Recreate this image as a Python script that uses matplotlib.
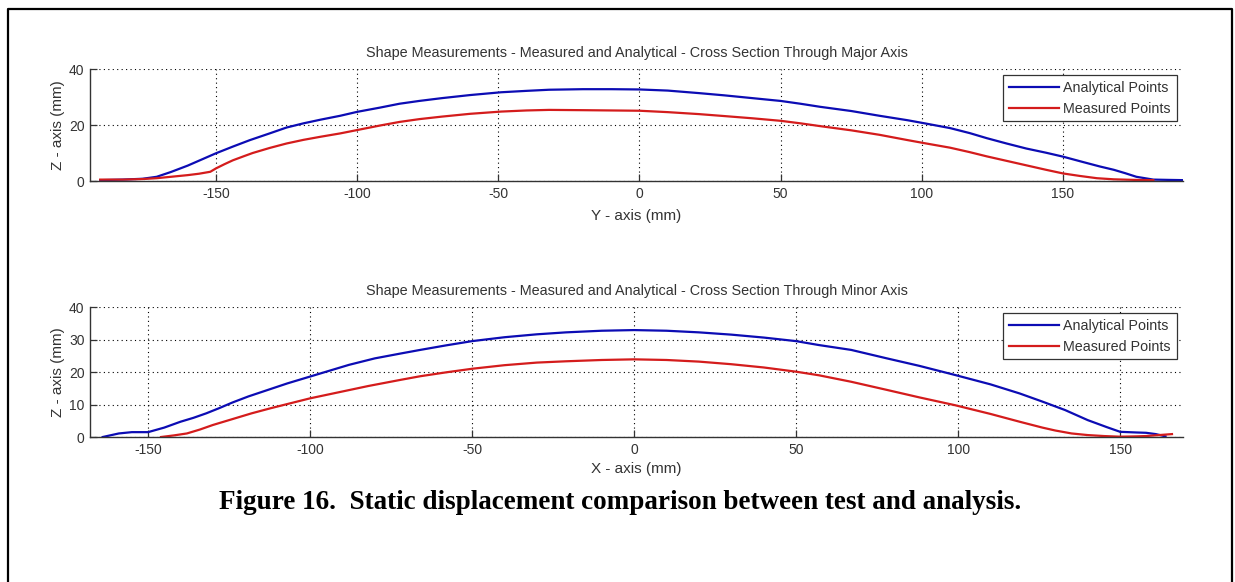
"""Static displacement comparison, major and minor axis cross sections"""
import matplotlib
matplotlib.use("Agg")
import matplotlib.pyplot as plt
from matplotlib.lines import Line2D

# major axis cross section (Y - axis)
MAJOR_Y_ANALYTICAL = [-191, -183, -176, -171, -166, -160, -155, -150, -144, -138,
                      -131, -125, -119, -113, -106, -100, -92, -85, -78, -70,
                      -60, -49, -40, -32, -20, -10, 0, 10, 21, 30,
                      40, 50, 57, 64, 75, 85, 95, 101, 110, 117, 123,
                      130, 137, 144, 150, 157, 163, 168, 172, 176, 182, 187, 193]
MAJOR_Z_ANALYTICAL = [0.3, 0.5, 0.8, 1.5, 3.2, 5.5, 7.7, 9.9, 12.3, 14.6,
                      17.0, 19.1, 20.6, 21.9, 23.3, 24.7, 26.2, 27.6, 28.6, 29.6,
                      30.7, 31.7, 32.2, 32.6, 32.8, 32.8, 32.7, 32.3, 31.4, 30.6,
                      29.6, 28.6, 27.6, 26.5, 25.0, 23.3, 21.7, 20.6, 18.9, 17.1, 15.3,
                      13.4, 11.6, 10.1, 8.7, 6.8, 5.2, 4.0, 2.8, 1.5, 0.5, 0.4, 0.3]
MAJOR_Y_MEASURED = [-191, -183, -176, -171, -165, -160, -156, -152, -150, -147,
                    -144, -140, -137, -131, -125, -119, -113, -106, -100, -92,
                    -85, -78, -70, -60, -49, -40, -32, -20, -10, 0, 10, 21,
                    30, 40, 50, 57, 64, 75, 85, 95, 101, 110, 117, 123,
                    130, 137, 144, 150, 156, 162, 168, 175, 182]
MAJOR_Z_MEASURED = [0.5, 0.5, 0.7, 1.0, 1.6, 2.1, 2.6, 3.3, 4.5, 6.0,
                    7.4, 8.9, 10.0, 11.8, 13.4, 14.7, 15.8, 17.0, 18.2, 19.8,
                    21.1, 22.1, 23.0, 24.0, 24.8, 25.2, 25.4, 25.3, 25.2, 25.1, 24.6, 23.9,
                    23.2, 22.4, 21.5, 20.6, 19.6, 18.1, 16.5, 14.6, 13.5, 11.9, 10.3, 8.8,
                    7.2, 5.6, 4.0, 2.7, 1.8, 1.0, 0.6, 0.4, 0.3]

# minor axis cross section (X - axis)
MINOR_X_ANALYTICAL = [-164, -159, -155, -150, -145, -140, -136, -132, -128, -124,
                      -119, -113, -107, -100, -94, -88, -80, -72, -66, -58,
                      -50, -40, -30, -21, -10, 0, 10, 20, 30, 40,
                      50, 57, 67, 78, 88, 99, 110, 119, 126, 133,
                      140, 146, 150, 155, 158, 161, 164]
MINOR_Z_ANALYTICAL = [0.0, 1.1, 1.5, 1.5, 2.9, 4.7, 5.9, 7.3, 8.9, 10.6,
                      12.5, 14.5, 16.5, 18.6, 20.4, 22.2, 24.2, 25.7, 26.8, 28.2,
                      29.5, 30.7, 31.6, 32.2, 32.7, 32.9, 32.7, 32.2, 31.5, 30.6,
                      29.5, 28.3, 26.8, 24.2, 21.9, 19.1, 16.2, 13.4, 10.9, 8.3,
                      5.2, 3.0, 1.6, 1.4, 1.3, 0.9, 0.2]
MINOR_X_MEASURED = [-146, -142, -138, -134, -130, -124, -118, -112, -106, -100,
                    -91, -82, -72, -66, -58, -50, -40, -30, -21, -10,
                    0, 10, 20, 30, 40, 50, 57, 67, 78, 88,
                    99, 110, 119, 126, 130, 135, 140, 145, 150, 155,
                    158, 162, 166]
MINOR_Z_MEASURED = [0.0, 0.5, 1.1, 2.3, 3.7, 5.5, 7.3, 8.9, 10.4, 11.9,
                    13.8, 15.7, 17.6, 18.7, 19.9, 21.0, 22.1, 22.9, 23.3, 23.7,
                    23.9, 23.7, 23.2, 22.4, 21.4, 20.1, 19.0, 17.0, 14.5, 12.2,
                    9.8, 7.1, 4.7, 2.9, 2.0, 1.1, 0.6, 0.3, 0.1, 0.2,
                    0.3, 0.6, 0.9]

LEGEND_LABELS = ["Analytical Points", "Measured Points"]
BLUE = "#0c0cb4"
RED = "#d41c1c"
GREY = "#333333"


def style_axes(ax, xlim, ylim, yticks):
    """matlab-like axes, box off with dotted grid"""
    ax.set_xlim(*xlim)
    ax.set_ylim(*ylim)
    ax.set_xticks([-150, -100, -50, 0, 50, 100, 150])
    ax.set_yticks(yticks)
    ax.spines["top"].set_visible(False)
    ax.spines["right"].set_visible(False)
    for side in ("left", "bottom"):
        ax.spines[side].set_color(GREY)
        ax.spines[side].set_linewidth(1.0)
    ax.tick_params(direction="in", length=5, width=0.9, colors=GREY,
                   labelsize=10, pad=4)
    ax.grid(True, color="black", linestyle=(0, (1, 3)), linewidth=0.8)
    ax.set_axisbelow(True)


def plot():
    """ploting the two cross sections"""
    plt.rcParams["font.family"] = ["Liberation Sans", "DejaVu Sans"]
    plt.rcParams["axes.unicode_minus"] = False
    fig = plt.figure(figsize=(12.35, 5.82), dpi=100)

    ax1 = fig.add_axes([0.0729, 0.689, 0.885, 0.1924])
    ax1.plot(MAJOR_Y_ANALYTICAL, MAJOR_Z_ANALYTICAL, color=BLUE, lw=1.6,
             label=LEGEND_LABELS[0])
    ax1.plot(MAJOR_Y_MEASURED, MAJOR_Z_MEASURED, color=RED, lw=1.6,
             label=LEGEND_LABELS[1])
    style_axes(ax1, (-194.6, 192.5), (0, 40), [0, 20, 40])
    ax1.set_title("Shape Measurements - Measured and Analytical - Cross Section Through Major Axis",
                  fontsize=10.4, color=GREY, pad=9)
    ax1.set_xlabel("Y - axis (mm)", fontsize=11, color=GREY, labelpad=6)
    ax1.set_ylabel("Z - axis (mm)", fontsize=11, color=GREY, labelpad=3)

    ax2 = fig.add_axes([0.0729, 0.2491, 0.885, 0.2234])
    ax2.plot(MINOR_X_ANALYTICAL, MINOR_Z_ANALYTICAL, color=BLUE, lw=1.6,
             label=LEGEND_LABELS[0])
    ax2.plot(MINOR_X_MEASURED, MINOR_Z_MEASURED, color=RED, lw=1.6,
             label=LEGEND_LABELS[1])
    style_axes(ax2, (-167.9, 169.4), (0, 40), [0, 10, 20, 30, 40])
    ax2.set_title("Shape Measurements - Measured and Analytical - Cross Section Through Minor Axis",
                  fontsize=10.4, color=GREY, pad=9)
    ax2.set_xlabel("X - axis (mm)", fontsize=11, color=GREY, labelpad=4)
    ax2.set_ylabel("Z - axis (mm)", fontsize=11, color=GREY, labelpad=3)

    for ax in (ax1, ax2):
        leg = ax.legend(loc="upper right", fontsize=10.3, fancybox=False,
                        framealpha=1, edgecolor=GREY, handlelength=3.5,
                        borderaxespad=0.45, labelspacing=0.45,
                        handletextpad=0.3, borderpad=0.4)
        leg.get_frame().set_linewidth(0.9)
        for text in leg.get_texts():
            text.set_color(GREY)

    fig.text(0.502, 0.137, "Figure 16.  Static displacement comparison between test and analysis.",
             ha="center", va="center", fontsize=19.5, fontweight="bold",
             family=["Liberation Serif", "DejaVu Serif"])

    # page frame (top, left and right only)
    x0, x1 = 8 / 1235, 1232 / 1235
    y_top = 1 - 9 / 582
    fig.add_artist(Line2D([x0, x0, x1, x1], [-0.01, y_top, y_top, -0.01],
                          color="black", lw=1.6, transform=fig.transFigure))

    fig.savefig("out.png", dpi=100)


plot()
